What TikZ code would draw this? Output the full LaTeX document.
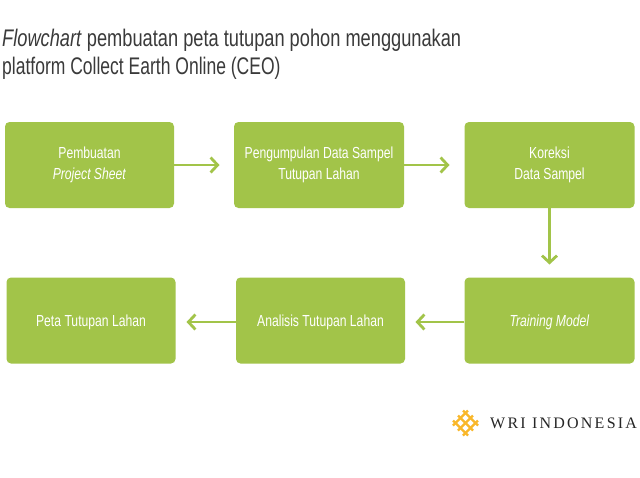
\documentclass[tikz,border=0pt]{standalone}
\usepackage{fontspec}
\setmainfont[FakeStretch=0.76]{Liberation Sans}
\newfontfamily\logofont[LetterSpace=14]{Liberation Serif}
\usetikzlibrary{arrows.meta}
\definecolor{wgreen}{HTML}{A2C449}
\definecolor{wgold}{HTML}{F9B72A}
\definecolor{wtext}{HTML}{3A3A3A}
\newcommand{\lowtext}[1]{\raisebox{0pt}[11pt][0pt]{#1}}
\tikzset{
  stepbox/.style={fill=wgreen,draw=none,rounded corners=4.5pt,minimum height=86pt,inner sep=0pt,text=white,align=center,font=\fontsize{16}{21}\selectfont},
  flow/.style={draw=wgreen,line width=2.8pt,-{Straight Barb[length=7pt,width=15pt,line width=2.8pt]}},
  titletext/.style={anchor=west,inner sep=0pt,text=wtext,font=\fontsize{24}{28}\selectfont},
  weave/.style={draw=wgold,line width=2.3pt}
}
\begin{document}
\begin{tikzpicture}[x=1pt,y=-1pt]
\useasboundingbox (0,0) rectangle (640,477);
\fill[white] (0,0) rectangle (640,477);
\node[titletext] (t1) at (2,40) {\textit{Flowchart} pembuatan peta tutupan pohon menggunakan};
\node[titletext] (t2) at (2,68) {\scalebox{0.96}[1]{platform Collect Earth Online (CEO)}};
\node[stepbox,minimum width=169pt] (a) at (89.5,165) {Pembuatan\\\textit{Project Sheet}};
\node[stepbox,minimum width=170pt] (b) at (319,165) {Pengumpulan Data Sampel\\Tutupan Lahan};
\node[stepbox,minimum width=170pt] (c) at (549.5,165) {Koreksi\\Data Sampel};
\node[stepbox,minimum width=170pt] (d) at (549.5,320.5) {\lowtext{\textit{Training Model}}};
\node[stepbox,minimum width=169pt] (e) at (320.5,320.5) {\lowtext{Analisis Tutupan Lahan}};
\node[stepbox,minimum width=169pt] (f) at (91,320.5) {\lowtext{Peta Tutupan Lahan}};
\coordinate (ab) at (219.5,165);
\coordinate (bc) at (449.5,165);
\coordinate (cd) at (549.5,264.5);
\coordinate (de) at (415.5,322);
\coordinate (ef) at (186.5,322);
\draw[flow] (a.east) -- (ab);
\draw[flow] (b.east) -- (bc);
\draw[flow] (c.south) -- (cd);
\draw[flow] (d.west |- de) -- (de);
\draw[flow] (e.west |- ef) -- (ef);
% logo
\begin{scope}[shift={(465.5,423)}]
\clip (0,-15) -- (15,0) -- (0,15) -- (-15,0) -- cycle;
\foreach \k in {-10,-5,0,5,10}{
  \draw[weave] (-16+\k,-16-\k) -- ++(32,32);
  \draw[weave] (-16+\k,16+\k) -- ++(32,-32);
}
\end{scope}
\node[anchor=west,inner sep=0pt,text=black!85,font=\logofont\fontsize{16}{18}\selectfont] (logo) at (490,423) {WRI INDONESIA};
\end{tikzpicture}
\end{document}
